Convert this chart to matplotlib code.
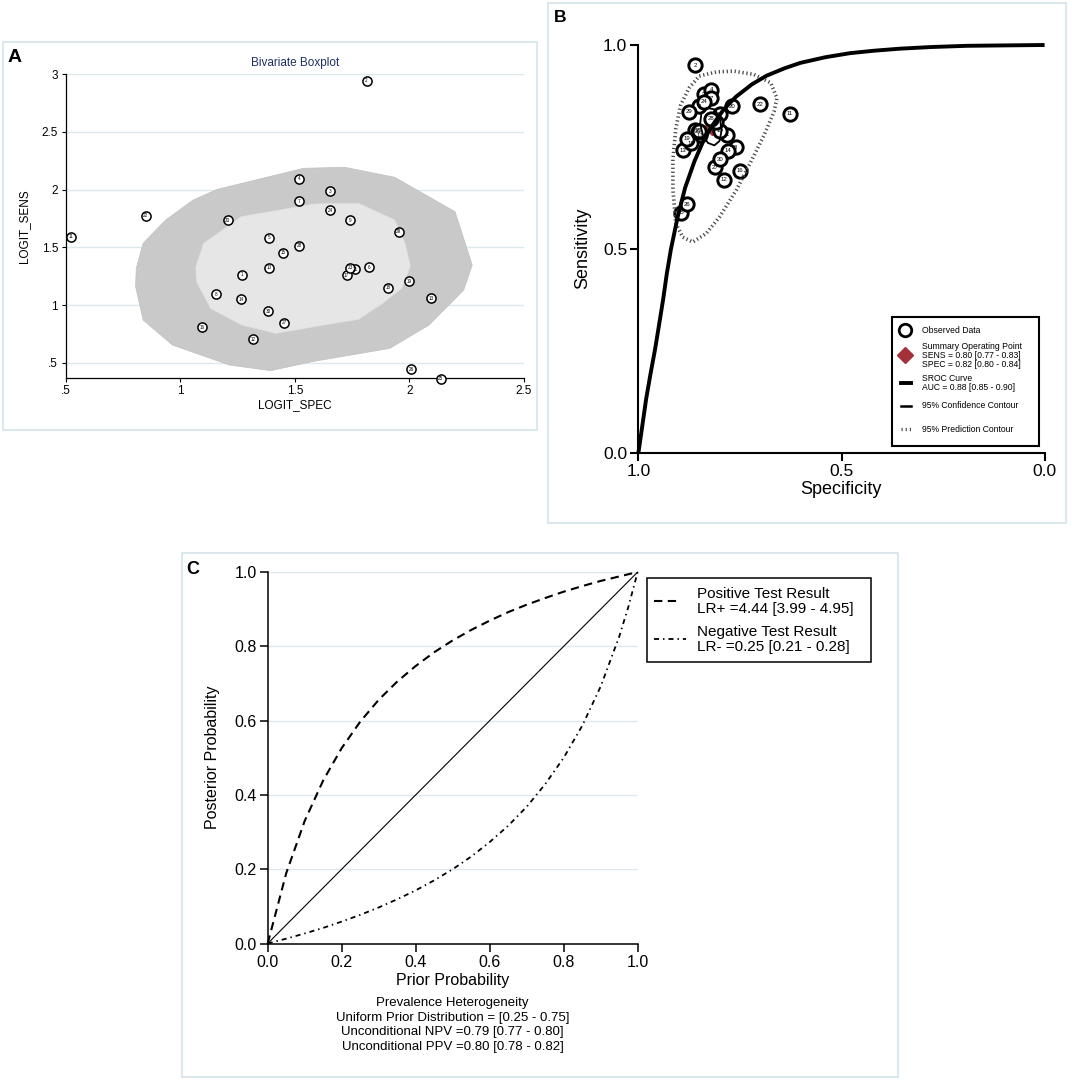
import numpy as np
import matplotlib
matplotlib.use("Agg")
import matplotlib.pyplot as plt
from matplotlib.patches import Rectangle, Polygon
from matplotlib.lines import Line2D

plt.rcParams['font.family'] = ['Liberation Sans', 'DejaVu Sans']

W, H = 1072, 1080

# ---------------- Panel A data (bivariate boxplot) ----------------
study_ids = list(range(1, 31))
logit_spec = [1.271, 1.813, 1.655, 1.518, 1.386, 1.823, 1.517, 1.154, 1.741, 1.387,
              0.523, 1.318, 2.094, 1.267, 1.449, 1.094, 1.726, 1.906, 1.998, 1.207,
              1.763, 0.850, 1.741, 1.655, 2.136, 2.007, 1.453, 1.518, 1.954, 1.383]
logit_sens = [1.263, 2.942, 1.988, 2.095, 1.584, 1.329, 1.899, 1.095, 1.737, 1.324,
              1.592, 0.705, 1.058, 1.049, 1.454, 0.806, 1.257, 1.150, 1.208, 1.734,
              1.312, 1.775, 1.324, 1.821, 0.361, 0.445, 0.847, 1.514, 1.636, 0.945]

fence_x = [1.162, 1.538, 1.718, 1.936, 2.199, 2.274, 2.237, 2.086, 1.914, 1.575,
           1.395, 1.214, 0.966, 0.838, 0.805, 0.808, 0.838, 0.936, 1.056]
fence_y = [2.003, 2.185, 2.194, 2.107, 1.809, 1.347, 1.130, 0.827, 0.624, 0.509,
           0.431, 0.480, 0.653, 0.870, 1.159, 1.318, 1.535, 1.737, 1.910]
hinge_x = [1.102, 1.267, 1.583, 1.778, 1.936, 1.981, 2.004, 1.966, 1.883, 1.778,
           1.628, 1.417, 1.267, 1.132, 1.071, 1.068]
hinge_y = [1.535, 1.766, 1.876, 1.882, 1.737, 1.535, 1.332, 1.145, 1.014, 0.876,
           0.827, 0.754, 0.827, 0.971, 1.202, 1.332]

a_xticks = [0.5, 1.0, 1.5, 2.0, 2.5]
a_xlabels = ['.5', '1', '1.5', '2', '2.5']
a_yticks = [0.5, 1.0, 1.5, 2.0, 2.5, 3.0]
a_ylabels = ['.5', '1', '1.5', '2', '2.5', '3']

# ---------------- Panel B data (SROC) ----------------
sroc_spec = [1.000, 0.981, 0.970, 0.959, 0.949, 0.939, 0.930, 0.920, 0.903, 0.885,
             0.862, 0.840, 0.820, 0.790, 0.760, 0.720, 0.684, 0.640, 0.602, 0.540,
             0.479, 0.420, 0.356, 0.280, 0.192, 0.100, 0.000]
sroc_sens = [0.000, 0.132, 0.195, 0.254, 0.315, 0.377, 0.440, 0.499, 0.580, 0.650,
             0.715, 0.765, 0.800, 0.842, 0.873, 0.904, 0.925, 0.943, 0.956, 0.970,
             0.980, 0.986, 0.991, 0.995, 0.998, 0.999, 1.000]
pred_spec = [0.850, 0.808, 0.766, 0.716, 0.674, 0.659, 0.666, 0.691, 0.724, 0.758,
             0.800, 0.833, 0.866, 0.891, 0.908, 0.915, 0.915, 0.908, 0.896, 0.875]
pred_sens = [0.924, 0.934, 0.936, 0.928, 0.907, 0.870, 0.837, 0.778, 0.712, 0.646,
             0.579, 0.538, 0.517, 0.529, 0.563, 0.646, 0.720, 0.795, 0.853, 0.895]
conf_spec = [0.845, 0.832, 0.812, 0.800, 0.795, 0.800, 0.813, 0.829, 0.841, 0.848]
conf_sens = [0.832, 0.846, 0.842, 0.822, 0.792, 0.765, 0.754, 0.760, 0.779, 0.806]
summary_spec = 0.82
summary_sens = 0.80
b_ticks = [1.0, 0.5, 0.0]
b_ticklabels = ['1.0', '0.5', '0.0']

# ---------------- Panel C data (conditional probability plot) ----------------
prior = [0.0, 0.05, 0.10, 0.15, 0.20, 0.25, 0.30, 0.35, 0.40, 0.45, 0.50, 0.55,
         0.60, 0.65, 0.70, 0.75, 0.80, 0.85, 0.90, 0.95, 0.975, 1.0]
post_pos = [0.0, 0.189, 0.330, 0.439, 0.526, 0.597, 0.656, 0.705, 0.747, 0.784, 0.816,
            0.844, 0.869, 0.892, 0.912, 0.930, 0.947, 0.962, 0.976, 0.988, 0.994, 1.0]
post_neg = [0.0, 0.013, 0.027, 0.042, 0.059, 0.077, 0.097, 0.119, 0.143, 0.170, 0.200,
            0.234, 0.273, 0.317, 0.368, 0.429, 0.500, 0.586, 0.692, 0.826, 0.907, 1.0]
c_ticks = [0.0, 0.2, 0.4, 0.6, 0.8, 1.0]
c_ticklabels = ['0.0', '0.2', '0.4', '0.6', '0.8', '1.0']


# ---------------- helpers ----------------
fig = plt.figure(figsize=(W / 100, H / 100), dpi=100)
fig.patch.set_facecolor('white')


def fx(px):
    return px / W


def fy(py):
    return 1 - py / H


def px_axes(l, t, r, b):
    return fig.add_axes([l / W, 1 - b / H, (r - l) / W, (b - t) / H])


def frame(l, t, r, b, color='#dde8ee', lw=1.5):
    fig.add_artist(Rectangle((fx(l), fy(b)), (r - l) / W, (b - t) / H,
                             transform=fig.transFigure, fill=False,
                             edgecolor=color, linewidth=lw))


def ftext(px, py, s, **kw):
    fig.text(fx(px), fy(py), s, **kw)


# panel frames
frame(3, 42, 537, 430)
frame(548, 3, 1066, 523)
frame(182, 553, 898, 1077)

# ================= Panel A =================
axA = px_axes(65.7, 74.3, 524, 377.7)
axA.set_xlim(0.5, 2.5)
axA.set_ylim(0.37, 3.0)
axA.set_axisbelow(True)
axA.yaxis.grid(True, color='#dbe8ec', linewidth=1.0)
axA.add_patch(Polygon(np.column_stack([fence_x, fence_y]), closed=True,
                      facecolor='#c9c9c9', edgecolor='#c0c0c0', lw=0.5, zorder=1))
axA.add_patch(Polygon(np.column_stack([hinge_x, hinge_y]), closed=True,
                      facecolor='#e6e6e6', edgecolor='#e0e0e0', lw=0.5, zorder=2))
axA.plot(logit_spec, logit_sens, 'o', ms=6.6, mfc='white', mec='black', mew=1.1,
         ls='none', clip_on=False, zorder=3)
for sid, x, y in zip(study_ids, logit_spec, logit_sens):
    axA.text(x, y, str(sid), fontsize=3.3, ha='center', va='center', zorder=4,
             clip_on=False)
axA.set_xticks(a_xticks)
axA.set_xticklabels(a_xlabels)
axA.set_yticks(a_yticks)
axA.set_yticklabels(a_ylabels)
axA.tick_params(axis='both', labelsize=8.5, length=3, width=0.8, pad=2.5,
                direction='out')
for s in ['top', 'right']:
    axA.spines[s].set_visible(False)
for s in ['left', 'bottom']:
    axA.spines[s].set_linewidth(0.9)
ftext(294.8, 66, 'Bivariate Boxplot', fontsize=8.5, color='#1f2f66',
      ha='center', va='baseline')
ftext(294.8, 405, 'LOGIT_SPEC', fontsize=8.5, ha='center', va='center')
ftext(24, 226, 'LOGIT_SENS', fontsize=8.5, ha='center', va='center', rotation=90)
ftext(7.5, 62.5, 'A', fontsize=14, fontweight='bold', ha='left', va='baseline')

# ================= Panel B =================
axB = px_axes(638.4, 45, 1044.6, 453)
axB.set_xlim(1.0, 0.0)
axB.set_ylim(0.0, 1.0)
spec_obs = 1 / (1 + np.exp(-np.array(logit_spec)))
sens_obs = 1 / (1 + np.exp(-np.array(logit_sens)))
axB.plot([summary_spec], [summary_sens], 'D', ms=8, color='#a2313a', zorder=2.5)
axB.plot(spec_obs, sens_obs, 'o', ms=9.6, mfc='white', mec='black', mew=2.1,
         ls='none', zorder=3)
for sid, x, y in zip(study_ids, spec_obs, sens_obs):
    axB.text(x, y, str(sid), fontsize=4.3, ha='center', va='center', zorder=4)
axB.plot(pred_spec + pred_spec[:1], pred_sens + pred_sens[:1], color='#4a4a4a',
         lw=2.6, ls=(0, (0.35, 0.75)), zorder=4.5)
axB.plot(conf_spec + conf_spec[:1], conf_sens + conf_sens[:1], color='black',
         lw=1.3, zorder=5)
axB.plot(sroc_spec, sroc_sens, color='black', lw=2.8, zorder=6, clip_on=False,
         solid_capstyle='butt')
axB.set_xticks(b_ticks)
axB.set_xticklabels(b_ticklabels)
axB.set_yticks(b_ticks)
axB.set_yticklabels(b_ticklabels)
axB.tick_params(axis='both', labelsize=12.5, length=6, width=1.5, pad=2,
                direction='out')
for s in ['top', 'right']:
    axB.spines[s].set_visible(False)
for s in ['left', 'bottom']:
    axB.spines[s].set_linewidth(1.5)
ftext(841.3, 490, 'Specificity', fontsize=13, ha='center', va='center')
ftext(582.4, 248.5, 'Sensitivity', fontsize=13, ha='center', va='center',
      rotation=90)
ftext(553.5, 22, 'B', fontsize=12.5, fontweight='bold', ha='left', va='baseline')

# legend B (drawn in figure pixel coords)
fig.add_artist(Rectangle((fx(892.2), fy(445.6)), (1038.8 - 892.2) / W,
                         (445.6 - 317.1) / H, transform=fig.transFigure,
                         fill=False, edgecolor='black', linewidth=1.5))
lg_fs = 6.2
hx = 905.0
tx = 922.5
fig.add_artist(Line2D([fx(hx)], [fy(330.3)], marker='o', ms=9, mfc='white',
                      mec='black', mew=2.0, transform=fig.transFigure))
ftext(tx, 330.3, 'Observed Data', fontsize=lg_fs, va='center')
fig.add_artist(Line2D([fx(hx)], [fy(355.0)], marker='D', ms=8.5, color='#a2313a',
                      transform=fig.transFigure))
ftext(tx, 346.5, 'Summary Operating Point', fontsize=lg_fs, va='center')
ftext(tx, 355.3, 'SENS = 0.80 [0.77 - 0.83]', fontsize=lg_fs, va='center')
ftext(tx, 364.1, 'SPEC = 0.82 [0.80 - 0.84]', fontsize=lg_fs, va='center')
fig.add_artist(Line2D([fx(900.5), fx(910.5)], [fy(383), fy(383)], color='black',
                      lw=2.8, transform=fig.transFigure))
ftext(tx, 378.6, 'SROC Curve', fontsize=lg_fs, va='center')
ftext(tx, 387.2, 'AUC = 0.88 [0.85 - 0.90]', fontsize=lg_fs, va='center')
fig.add_artist(Line2D([fx(900.5), fx(910.5)], [fy(405.7), fy(405.7)],
                      color='black', lw=1.8, transform=fig.transFigure))
ftext(tx, 405.7, '95% Confidence Contour', fontsize=lg_fs, va='center')
fig.add_artist(Line2D([fx(900.5), fx(910.5)], [fy(429.3), fy(429.3)],
                      color='#4a4a4a', lw=2.4, ls=(0, (0.35, 0.9)),
                      transform=fig.transFigure))
ftext(tx, 429.3, '95% Prediction Contour', fontsize=lg_fs, va='center')

# ================= Panel C =================
axC = px_axes(267.7, 572.0, 637.7, 943.5)
axC.set_xlim(0, 1)
axC.set_ylim(0, 1)
axC.set_axisbelow(True)
axC.set_xticks(c_ticks)
axC.set_xticklabels(c_ticklabels)
axC.set_yticks(c_ticks)
axC.set_yticklabels(c_ticklabels)
for yv in c_ticks[1:]:
    axC.axhline(yv, color='#dde9ec', lw=1.0, zorder=0)
axC.plot([0, 1], [0, 1], color='black', lw=0.8, zorder=2)
axC.plot(prior, post_pos, color='black', lw=1.5, ls=(0, (4, 2.6)), zorder=3,
         clip_on=False)
axC.plot(prior, post_neg, color='black', lw=1.3, ls=(0, (2.8, 2.2, 0.8, 2.2)),
         zorder=3, clip_on=False)
axC.tick_params(axis='both', labelsize=11.5, length=5.5, width=1.1, pad=2.5,
                direction='out')
for s in ['top', 'right']:
    axC.spines[s].set_visible(False)
for s in ['left', 'bottom']:
    axC.spines[s].set_linewidth(1.1)
ftext(452.7, 980, 'Prior Probability', fontsize=11.5, ha='center', va='center')
ftext(212, 757, 'Posterior Probability', fontsize=11.5, ha='center', va='center',
      rotation=90)
ftext(452.7, 1003.3, 'Prevalence Heterogeneity', fontsize=9.5, ha='center',
      va='center')
ftext(452.7, 1018.0, 'Uniform Prior Distribution = [0.25 - 0.75]', fontsize=9.5,
      ha='center', va='center')
ftext(452.7, 1032.3, 'Unconditional NPV =0.79 [0.77 - 0.80]', fontsize=9.5,
      ha='center', va='center')
ftext(452.7, 1046.7, 'Unconditional PPV =0.80 [0.78 - 0.82]', fontsize=9.5,
      ha='center', va='center')
ftext(186, 574.5, 'C', fontsize=13, fontweight='bold', ha='left', va='baseline')

# legend C
fig.add_artist(Rectangle((fx(646.7), fy(662.3)), (871 - 646.7) / W,
                         (662.3 - 578.3) / H, transform=fig.transFigure,
                         fill=False, edgecolor='black', linewidth=1.1))
fig.add_artist(Line2D([fx(654), fx(681)], [fy(601), fy(601)], color='black',
                      lw=1.5, ls=(0, (4, 2.6)), transform=fig.transFigure))
fig.add_artist(Line2D([fx(654), fx(686)], [fy(639), fy(639)], color='black',
                      lw=1.3, ls=(0, (2.8, 2.2, 0.8, 2.2)),
                      transform=fig.transFigure))
ftext(696.7, 594.0, 'Positive Test Result', fontsize=11, va='center')
ftext(696.7, 609.5, 'LR+ =4.44 [3.99 - 4.95]', fontsize=11, va='center')
ftext(696.7, 631.7, 'Negative Test Result', fontsize=11, va='center')
ftext(696.7, 647.0, 'LR- =0.25 [0.21 - 0.28]', fontsize=11, va='center')

fig.savefig('out.png', dpi=100, facecolor='white')
